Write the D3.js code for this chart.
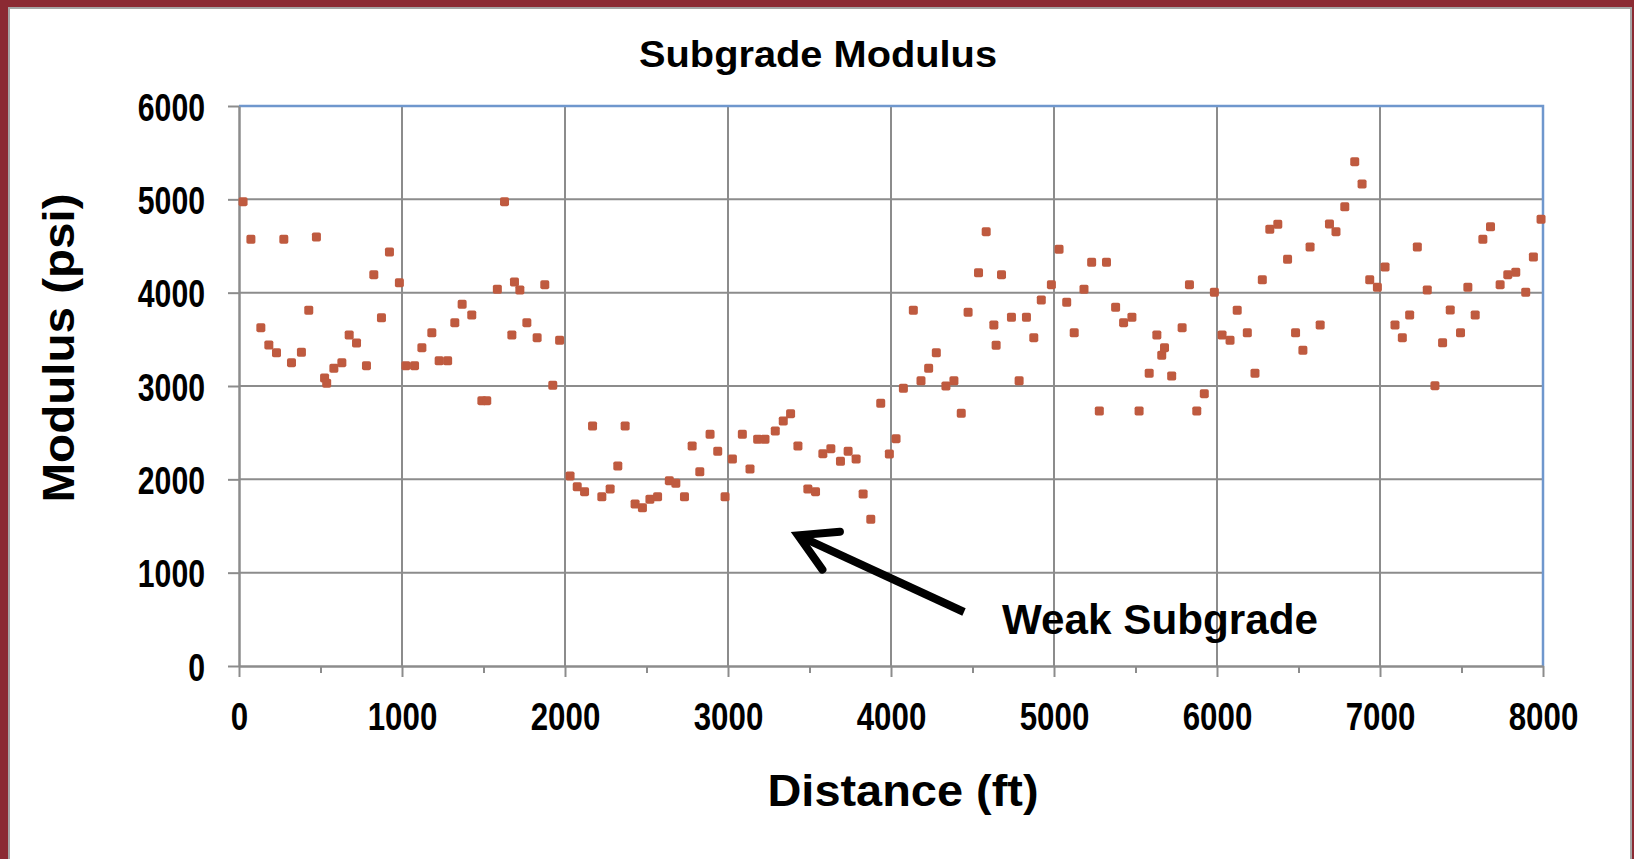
<!DOCTYPE html>
<html><head><meta charset="utf-8">
<script src="https://cdn.jsdelivr.net/npm/d3@7"></script>
<style>
html,body{margin:0;padding:0;background:#8b2a33;}
svg{display:block;}
text{font-family:"Liberation Sans",Arial,sans-serif;font-weight:bold;fill:#000;}
</style></head>
<body>
<script>
// ---- data ----
const distance = [25,73,134,183,230,275,322,383,428,475,525,538,582,631,676,721,782,827,874,923,984,1024,1077,1122,1183,1228,1280,1324,1369,1428,1490,1520,1585,1629,1674,1690,1723,1766,1829,1876,1925,1967,2031,2075,2120,2169,2226,2277,2324,2369,2430,2475,2521,2568,2640,2680,2733,2780,2827,2890,2937,2982,3027,3088,3135,3182,3227,3290,3339,3384,3429,3490,3537,3582,3631,3690,3737,3786,3829,3876,3937,3990,4031,4076,4137,4184,4231,4278,4337,4386,4431,4473,4537,4584,4631,4645,4678,4739,4786,4831,4876,4922,4984,5031,5078,5124,5184,5231,5278,5322,5378,5427,5478,5522,5584,5631,5661,5678,5722,5786,5831,5876,5922,5984,6031,6080,6124,6186,6233,6278,6324,6373,6433,6482,6527,6571,6633,6690,6730,6784,6845,6890,6937,6984,7031,7092,7137,7182,7229,7290,7337,7384,7431,7494,7539,7584,7631,7678,7737,7784,7833,7894,7941,7988];
const modulus = [4975,4571,3625,3439,3357,4571,3250,3361,3811,4596,3086,3029,3189,3250,3546,3461,3218,4193,3732,4436,4107,3218,3218,3411,3571,3271,3271,3679,3875,3761,2843,2843,4036,4975,3546,4114,4029,3679,3518,4086,3007,3489,2036,1921,1868,2571,1814,1896,2143,2571,1736,1696,1786,1814,1986,1957,1814,2357,2082,2482,2300,1814,2218,2482,2111,2429,2429,2518,2625,2704,2357,1896,1868,2275,2329,2193,2300,2218,1843,1571,2814,2271,2436,2975,3811,3057,3189,3357,3000,3057,2707,3789,4214,4654,3654,3436,4193,3736,3057,3736,3518,3921,4086,4464,3896,3571,4036,4325,2732,4325,3843,3679,3736,2732,3136,3546,3329,3411,3107,3625,4086,2732,2918,4004,3546,3489,3811,3571,3136,4139,4679,4732,4357,3571,3382,4489,3654,4736,4654,4921,5404,5164,4139,4057,4275,3654,3518,3761,4489,4029,3004,3464,3814,3571,4057,3761,4571,4707,4086,4193,4218,4004,4382,4786];
const xTicks = [0,1000,2000,3000,4000,5000,6000,7000,8000];
const yTicks = [0,1000,2000,3000,4000,5000,6000];
const chartTitle = "Subgrade Modulus";
const xTitle = "Distance (ft)";
const yTitle = "Modulus (psi)";
const noteText = "Weak Subgrade";
const noteTarget = [3430, 1400];   // point the arrow indicates (data units)

// ---- layout ----
const W = 1634, H = 859;
const m = {left:239, right:1543, top:106, bottom:666};
const svg = d3.select("body").append("svg").attr("width", W).attr("height", H);

svg.append("rect").attr("x",0).attr("y",0).attr("width",W).attr("height",H).attr("fill","#8b2a33");
svg.append("rect").attr("x",9).attr("y",8).attr("width",1622).attr("height",852)
  .attr("fill","#fff").attr("stroke","#a6a6a6").attr("stroke-width",2);

const x = d3.scaleLinear().domain([0,8000]).range([m.left, m.right]);
const y = d3.scaleLinear().domain([0,6000]).range([m.bottom, m.top]);

const grid = svg.append("g");
grid.selectAll("line.v").data(xTicks.slice(1)).enter().append("line")
  .attr("x1",d=>x(d)).attr("x2",d=>x(d)).attr("y1",m.top).attr("y2",m.bottom)
  .attr("stroke","#8c8c8c").attr("stroke-width",2);
grid.selectAll("line.h").data(yTicks.slice(1)).enter().append("line")
  .attr("x1",m.left).attr("x2",m.right).attr("y1",d=>y(d)).attr("y2",d=>y(d))
  .attr("stroke","#8c8c8c").attr("stroke-width",2);

// plot border top/right (blue)
svg.append("path").attr("d",`M${m.left},${m.top}H${m.right}V${m.bottom}`)
  .attr("fill","none").attr("stroke","#6f97cd").attr("stroke-width",2.5);

// axes
const xAxis = d3.axisBottom(x).tickValues(d3.range(0,8001,500)).tickSize(0).tickFormat("");
const gx = svg.append("g").attr("transform",`translate(0,${m.bottom})`).call(xAxis);
gx.select(".domain").attr("stroke","#8c8c8c").attr("stroke-width",2.5);
gx.selectAll(".tick line").attr("stroke","#8c8c8c").attr("stroke-width",2)
  .attr("y2",d=>d%1000===0?11:7);
gx.selectAll(".tick").filter(d=>d%1000===0).append("text")
  .attr("y",64).attr("text-anchor","middle").style("font-size","39px")
  .attr("textLength",d=>String(d).length*17.4).attr("lengthAdjust","spacingAndGlyphs")
  .text(d=>xTicks.includes(d)?d:"");

const yAxis = d3.axisLeft(y).tickValues(yTicks).tickSize(0).tickFormat("");
const gy = svg.append("g").attr("transform",`translate(${m.left},0)`).call(yAxis);
gy.select(".domain").attr("stroke","#8c8c8c").attr("stroke-width",2.5);
gy.selectAll(".tick line").attr("stroke","#8c8c8c").attr("stroke-width",2).attr("x2",-11);
gy.selectAll(".tick").append("text")
  .attr("x",-34).attr("y",14).attr("text-anchor","end").style("font-size","38px")
  .attr("textLength",d=>String(d).length*16.8).attr("lengthAdjust","spacingAndGlyphs")
  .text(d=>d);

// points
svg.append("g").selectAll("rect").data(distance).enter().append("rect")
  .attr("x",(d)=>x(d)-4.5).attr("y",(d,i)=>y(modulus[i])-4.5)
  .attr("width",9).attr("height",9).attr("rx",1.8)
  .attr("fill","#bf5a3f");

// titles
svg.append("text").attr("x",818).attr("y",67).attr("text-anchor","middle")
  .style("font-size","36px").attr("textLength",358).attr("lengthAdjust","spacingAndGlyphs").text(chartTitle);
svg.append("text").attr("x",903).attr("y",806).attr("text-anchor","middle")
  .style("font-size","45px").attr("textLength",271).attr("lengthAdjust","spacingAndGlyphs").text(xTitle);
svg.append("text").attr("transform","translate(74,348) rotate(-90)").attr("text-anchor","middle")
  .style("font-size","45px").attr("textLength",309).attr("lengthAdjust","spacingAndGlyphs").text(yTitle);

// annotation
const tip = [x(noteTarget[0]), y(noteTarget[1])];
const tail = [964, 612];
const ang = Math.atan2(tail[1]-tip[1], tail[0]-tip[0]);
const hl = 42, ha = 0.52;
const p1 = [tip[0]+hl*Math.cos(ang-ha), tip[1]+hl*Math.sin(ang-ha)];
const p2 = [tip[0]+hl*Math.cos(ang+ha), tip[1]+hl*Math.sin(ang+ha)];
svg.append("path").attr("d",`M${tail}L${tip[0]+4*Math.cos(ang)},${tip[1]+4*Math.sin(ang)}`)
  .attr("stroke","#000").attr("stroke-width",8).attr("fill","none");
svg.append("path").attr("d",`M${p1}L${tip}L${p2}`)
  .attr("stroke","#000").attr("stroke-width",8).attr("fill","none")
  .attr("stroke-linecap","round").attr("stroke-linejoin","miter");
svg.append("text").attr("x",1002).attr("y",634).style("font-size","42px")
  .attr("textLength",316).attr("lengthAdjust","spacingAndGlyphs").text(noteText);
</script>
</body></html>
